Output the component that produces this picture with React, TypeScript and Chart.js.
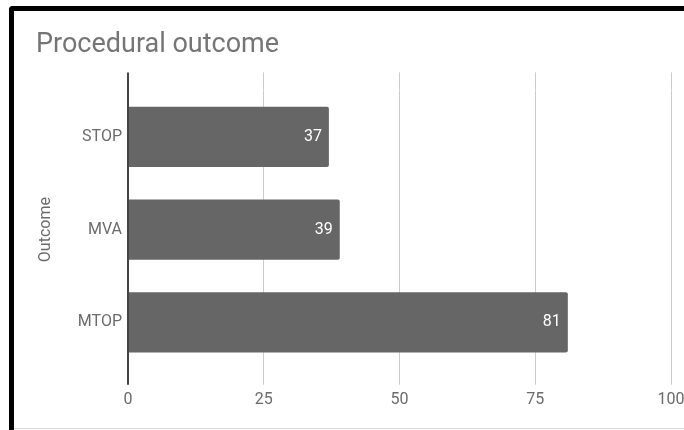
import { useEffect, useRef } from 'react';
import { Chart, registerables } from 'chart.js';
import type { Plugin } from 'chart.js';

Chart.register(...registerables);

// Procedure counts by outcome
const outcomeLabels = ['STOP', 'MVA', 'MTOP'];
const outcomeCounts = [37, 39, 81];
const countTicks = [0, 25, 50, 75, 100];

const chartTitle = 'Procedural outcome';
const outcomeAxisTitle = 'Outcome';

const FONT = 'Roboto, "Noto Sans", Arial, sans-serif';
const LABEL_COLOR = '#6b6b6b';
const GRID_COLOR = '#cccccc';
const BASELINE_COLOR = '#444444';

// Writes each bar's value in white just inside its end
const barValueLabels: Plugin<'bar'> = {
  id: 'barValueLabels',
  afterDatasetsDraw(chart) {
    const { ctx } = chart;
    const meta = chart.getDatasetMeta(0);
    const values = chart.data.datasets[0].data as number[];
    ctx.save();
    ctx.font = `16px ${FONT}`;
    ctx.fillStyle = '#ffffff';
    ctx.textAlign = 'right';
    ctx.textBaseline = 'middle';
    meta.data.forEach((bar, i) => {
      const { x, y } = bar.getProps(['x', 'y'], true) as { x: number; y: number };
      ctx.fillText(String(values[i]), x - 7, y);
    });
    ctx.restore();
  },
};

const isBaseline = (c: any) => c.tick && c.tick.value === countTicks[0];

export default function App() {
  const canvasRef = useRef<HTMLCanvasElement | null>(null);

  useEffect(() => {
    const canvas = canvasRef.current;
    if (!canvas) return;
    const step = countTicks[1] - countTicks[0];
    const chart = new Chart(canvas, {
      type: 'bar',
      data: {
        labels: outcomeLabels,
        datasets: [
          {
            label: outcomeAxisTitle,
            data: outcomeCounts,
            backgroundColor: '#666666',
            borderRadius: 2,
            barPercentage: 0.65,
            categoryPercentage: 1,
          },
        ],
      },
      options: {
        indexAxis: 'y',
        responsive: false,
        animation: false,
        devicePixelRatio: 1,
        font: { family: FONT },
        layout: { padding: { left: 36, top: 0, right: 49, bottom: 14 } },
        plugins: {
          legend: { display: false },
          tooltip: { enabled: false },
          title: {
            display: true,
            text: chartTitle,
            align: 'start',
            color: '#757575',
            font: { family: FONT, size: 27, weight: 'normal' },
            padding: { top: 29, bottom: 11 },
          },
        },
        scales: {
          x: {
            type: 'linear',
            position: 'bottom',
            min: countTicks[0],
            max: countTicks[countTicks.length - 1],
            border: { display: false },
            grid: {
              drawOnChartArea: true,
              drawTicks: true,
              tickLength: 16,
              color: (c: any) => (isBaseline(c) ? BASELINE_COLOR : GRID_COLOR),
              tickColor: (c: any) => (isBaseline(c) ? BASELINE_COLOR : GRID_COLOR),
              lineWidth: (c: any) => (isBaseline(c) ? 2 : 1),
            },
            ticks: {
              stepSize: step,
              padding: 6,
              color: LABEL_COLOR,
              font: { family: FONT, size: 16 },
            },
          },
          xTop: {
            type: 'linear',
            position: 'top',
            axis: 'x',
            min: countTicks[0],
            max: countTicks[countTicks.length - 1],
            border: { display: false },
            grid: {
              drawOnChartArea: false,
              drawTicks: true,
              tickLength: 18,
              tickColor: (c: any) => (isBaseline(c) ? BASELINE_COLOR : GRID_COLOR),
              lineWidth: (c: any) => (isBaseline(c) ? 2 : 1),
            },
            ticks: { display: false, stepSize: step },
          },
          y: {
            type: 'category',
            offset: true,
            border: { display: true, color: BASELINE_COLOR, width: 2 },
            grid: { display: false, drawTicks: false },
            ticks: {
              padding: 6,
              color: LABEL_COLOR,
              font: { family: FONT, size: 16 },
            },
            title: {
              display: true,
              text: outcomeAxisTitle,
              color: LABEL_COLOR,
              font: { family: FONT, size: 16 },
              padding: 0,
            },
            afterFit: (scale: any) => {
              scale.width = 92;
            },
          },
        },
      },
      plugins: [barValueLabels],
    } as any);
    return () => chart.destroy();
  }, []);

  return (
    <div
      style={{
        position: 'fixed',
        left: 0,
        top: 0,
        width: 684,
        height: 430,
        overflow: 'hidden',
        background: '#ffffff',
      }}
    >
      <div
        style={{
          position: 'absolute',
          left: 9,
          top: 6,
          width: 800,
          height: 500,
          borderLeft: '5px solid #000000',
          borderTop: '5px solid #000000',
          borderTopLeftRadius: 4,
          boxSizing: 'border-box',
        }}
      />
      <div
        style={{
          position: 'absolute',
          left: 14,
          top: 428,
          right: 0,
          height: 1,
          background: '#d9d9d9',
        }}
      />
      <canvas
        ref={canvasRef}
        width={720}
        height={430}
        style={{ position: 'absolute', left: 0, top: 0, width: 720, height: 430 }}
      />
    </div>
  );
}
